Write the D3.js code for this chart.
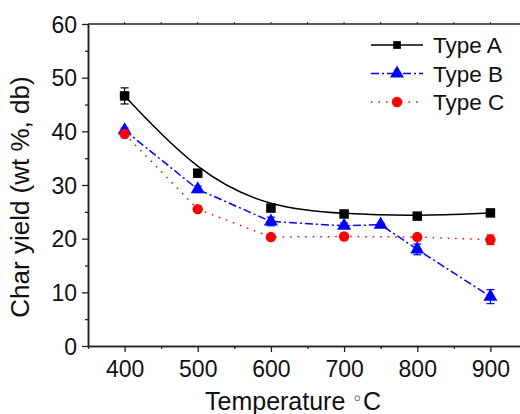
<!DOCTYPE html>
<html><head><meta charset="utf-8">
<script src="https://cdn.jsdelivr.net/npm/d3@7"></script>
<style>body{margin:0;background:#fff}svg{display:block;font-family:"Liberation Sans",Arial,sans-serif}</style>
</head><body><svg id="c" width="520" height="414"></svg>
<script>
const tempsA = [400, 500, 600, 700, 800, 900];
const typeA = [46.6, 32.2, 25.7, 24.6, 24.2, 24.8];
const errA = [1.5, 0.4, 0.4, 0.3, 0.3, 0.3];
const tempsB = [400, 500, 600, 700, 750, 800, 900];
const typeB = [40.2, 29.2, 23.2, 22.4, 22.6, 18.0, 9.2];
const errB = [0.4, 0.6, 0.8, 0.5, 0.3, 1.0, 1.3];
const tempsC = [400, 500, 600, 700, 800, 900];
const typeC = [39.5, 25.5, 20.3, 20.4, 20.3, 19.8];
const errC = [0.3, 0.3, 0.4, 0.3, 0.3, 0.9];
const xTicks = [400, 500, 600, 700, 800, 900];
const yTicks = [0, 10, 20, 30, 40, 50, 60];
const legendLabels = ["Type A", "Type B", "Type C"];

const svg = d3.select("#c");
const x = d3.scaleLinear().domain([350, 950]).range([88, 527]);
const y = d3.scaleLinear().domain([0, 60]).range([346, 24]);
const axisColor = "#222";

// top frame line
svg.append("line").attr("x1", 88).attr("x2", 527).attr("y1", y(60)).attr("y2", y(60))
  .attr("stroke", axisColor).attr("stroke-width", 1.5);
svg.append("g").selectAll("line").data(d3.range(400, 951, 50)).join("line")
  .attr("x1", d => x(d)).attr("x2", d => x(d)).attr("y1", y(60)).attr("y2", y(60) - 2)
  .attr("stroke", axisColor).attr("stroke-width", 1);

// axes
const gx = svg.append("g").attr("transform", "translate(0,346)")
  .call(d3.axisBottom(x).tickValues(xTicks).tickSize(6).tickSizeOuter(0).tickPadding(5).tickFormat(d3.format("d")));
const gxm = svg.append("g").attr("transform", "translate(0,346)")
  .call(d3.axisBottom(x).tickValues(d3.range(350, 951, 100)).tickSize(3).tickSizeOuter(0).tickFormat(""));
const gy = svg.append("g").attr("transform", "translate(88,0)")
  .call(d3.axisLeft(y).tickValues(yTicks).tickSize(6).tickSizeOuter(0).tickPadding(5));
const gym = svg.append("g").attr("transform", "translate(88,0)")
  .call(d3.axisLeft(y).tickValues(d3.range(5, 60, 10)).tickSize(3).tickSizeOuter(0).tickFormat(""));
[gx, gxm, gy, gym].forEach(g => {
  g.select(".domain").attr("stroke", axisColor).attr("stroke-width", 1.5);
  g.selectAll(".tick line").attr("stroke", axisColor).attr("stroke-width", 1.3);
  g.selectAll("text").attr("font-size", 23).attr("fill", "#111").attr("font-family", "Liberation Sans, Arial, sans-serif");
});
gx.selectAll("text").attr("dy", "0.85em");
gy.selectAll("text").attr("dy", "0.36em");

// axis titles
const xt = svg.append("text").attr("x", 293).attr("y", 410).attr("text-anchor", "middle")
  .attr("font-size", 25).attr("fill", "#111");
xt.append("tspan").text("Temperature ");
xt.append("tspan").attr("font-family", "DejaVu Sans").attr("font-size", 18).attr("dy", -5).text("◦");
xt.append("tspan").attr("dy", 5).text("C");
svg.append("text").attr("transform", "translate(29,197) rotate(-90)").attr("text-anchor", "middle")
  .attr("font-size", 26).attr("fill", "#111").text("Char yield (wt %, db)");

const series = [
  {t: tempsA, v: typeA, e: errA, color: "#000", dash: null, curve: d3.curveBasis, marker: "square"},
  {t: tempsB, v: typeB, e: errB, color: "#0000ff", dash: "8,3,2,3", curve: d3.curveLinear, marker: "triangle"},
  {t: tempsC, v: typeC, e: errC, color: "#ff0000", dash: "1.5,6", curve: d3.curveLinear, marker: "circle"}
];
const symType = {square: d3.symbolSquare, triangle: d3.symbolTriangle, circle: d3.symbolCircle};
const symSize = {square: 90, triangle: 85, circle: 85};

series.forEach(s => {
  const pts = s.t.map((t, i) => [t, s.v[i], s.e[i]]);
  svg.append("path").datum(pts)
    .attr("d", d3.line().x(d => x(d[0])).y(d => y(d[1])).curve(s.curve))
    .attr("fill", "none").attr("stroke", s.color).attr("stroke-width", 1.5)
    .attr("stroke-dasharray", s.dash);
  const eg = svg.append("g").attr("stroke", s.color).attr("stroke-width", 1.2);
  pts.forEach(d => {
    eg.append("line").attr("x1", x(d[0])).attr("x2", x(d[0])).attr("y1", y(d[1] - d[2])).attr("y2", y(d[1] + d[2]));
    eg.append("line").attr("x1", x(d[0]) - 4).attr("x2", x(d[0]) + 4).attr("y1", y(d[1] - d[2])).attr("y2", y(d[1] - d[2]));
    eg.append("line").attr("x1", x(d[0]) - 4).attr("x2", x(d[0]) + 4).attr("y1", y(d[1] + d[2])).attr("y2", y(d[1] + d[2]));
  });
  svg.append("g").selectAll("path").data(pts).join("path")
    .attr("transform", d => `translate(${x(d[0])},${y(d[1])})`)
    .attr("d", d3.symbol().type(symType[s.marker]).size(symSize[s.marker]))
    .attr("fill", s.color);
});

// legend
const lg = svg.append("g");
series.forEach((s, i) => {
  const cy = 45 + i * 28.5;
  lg.append("line").attr("x1", 371).attr("x2", 423).attr("y1", cy).attr("y2", cy)
    .attr("stroke", s.color).attr("stroke-width", 1.5).attr("stroke-dasharray", s.dash);
  lg.append("path").attr("transform", `translate(397,${cy})`)
    .attr("d", d3.symbol().type(symType[s.marker]).size(s.marker === "square" ? 60 : 85)).attr("fill", s.color);
  lg.append("text").attr("x", 433).attr("y", cy + 8).attr("font-size", 22.5).attr("fill", "#111").text(legendLabels[i]);
});
</script></body></html>
